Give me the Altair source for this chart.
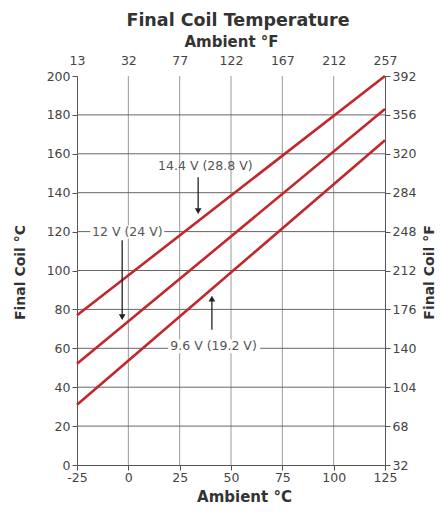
import json
import altair as alt
import pandas as pd

# ---------------- data ----------------
ambient_c = [-25, 125]
coil_14_4 = [77, 200]
coil_12 = [52, 183]
coil_9_6 = [31, 167]
series_names = ["14.4 V", "12 V", "9.6 V"]

x_ticks = [-25, 0, 25, 50, 75, 100, 125]
x_ticks_c = ["-25", "0", "25", "50", "75", "100", "125"]
x_ticks_f = ["13", "32", "77", "122", "167", "212", "257"]
y_ticks = [0, 20, 40, 60, 80, 100, 120, 140, 160, 180, 200]
y_ticks_f = ["32", "68", "104", "140", "176", "212", "248", "284", "320", "356", "392"]

h_grid = [20, 40, 60, 80, 100, 120, 140, 160, 180]
v_grid = [0, 25, 50, 75, 100]

ann_text = ["14.4 V (28.8 V)", "12 V (24 V)", "9.6 V (19.2 V)"]
ann_x = [37.5, -0.5, 41.5]
ann_y = [153.7, 119.8, 61]

arrow_x = [34, -3, 40.7]
arrow_tail = [148, 115.5, 69.5]
arrow_head = [130.5, 76, 85.5]
arrow_shape = ["down", "down", "up"]

box_x = [-18.5, 19.4]
box_x2 = [17.5, 64.2]
box_y = [116.5, 57.5]
box_y2 = [123.3, 64.5]

# ---------------- tables ----------------
lines_df = pd.DataFrame({
    "series": sum([[s] * len(ambient_c) for s in series_names], []),
    "x": ambient_c * 3,
    "y": coil_14_4 + coil_12 + coil_9_6,
})
hgrid_df = pd.DataFrame({"y": h_grid})
vgrid_df = pd.DataFrame({"x": v_grid})
ann_df = pd.DataFrame({"text": ann_text, "x": ann_x, "y": ann_y})
arrow_df = pd.DataFrame({"x": arrow_x, "tail": arrow_tail, "head": arrow_head, "dir": arrow_shape})
box_df = pd.DataFrame({"x": box_x, "x2": box_x2, "y": box_y, "y2": box_y2})

RED = "#c1272d"
FONT = "DejaVu Sans"

xs = alt.Scale(domain=[-25, 125], nice=False, zero=False)
ys = alt.Scale(domain=[0, 200], nice=False, zero=False)

common_axis = dict(
    grid=False, labelFont=FONT, labelFontSize=12.5, labelColor="#444",
    titleFont=FONT, titleFontWeight="bold", titleColor="#333",
    domainColor="#555", tickColor="#555", labelOverlap=False,
)

bottom_axis = alt.Axis(
    orient="bottom", values=x_ticks, tickSize=5, labelPadding=1, labelFlush=False,
    labelExpr=f"{json.dumps(x_ticks_c)}[indexof({json.dumps(x_ticks)}, datum.value)]",
    title="Ambient °C", titleFontSize=15, titleX=167, titleY=31, titleBaseline="middle",
    **common_axis,
)
left_axis = alt.Axis(
    orient="left", values=y_ticks, tickSize=5, labelPadding=2,
    title="Final Coil °C", titleFontSize=14, titleAngle=270, titleX=-57, titleY=196,
    titleBaseline="middle", **common_axis,
)
top_axis = alt.Axis(
    orient="top", values=x_ticks, ticks=False, domain=False, labelPadding=9, labelFlush=False,
    labelExpr=f"{json.dumps(x_ticks_f)}[indexof({json.dumps(x_ticks)}, datum.value)]",
    title="Ambient °F", titleFontSize=15, titleY=-35, titleBaseline="middle",
    **common_axis,
)
right_axis = alt.Axis(
    orient="right", values=y_ticks, tickSize=5, labelPadding=2,
    labelExpr=f"{json.dumps(y_ticks_f)}[indexof({json.dumps(y_ticks)}, datum.value)]",
    title="Final Coil °F", titleFontSize=14, titleAngle=270, titleX=44, titleY=196,
    titleBaseline="middle", **common_axis,
)

vgrid = alt.Chart(vgrid_df).mark_rule(color="#999", strokeWidth=1).encode(
    x=alt.X("x:Q", scale=xs, axis=None)
)
hgrid = alt.Chart(hgrid_df).mark_rule(color="#666", strokeWidth=1).encode(
    y=alt.Y("y:Q", scale=ys, axis=None)
)
boxes = alt.Chart(box_df).mark_rect(color="white").encode(
    x=alt.X("x:Q", scale=xs, axis=None), x2="x2:Q",
    y=alt.Y("y:Q", scale=ys, axis=None), y2="y2:Q",
)
lines = alt.Chart(lines_df).mark_line(color=RED, strokeWidth=2.6).encode(
    x=alt.X("x:Q", scale=xs, axis=bottom_axis),
    y=alt.Y("y:Q", scale=ys, axis=left_axis),
    detail="series:N",
)
axes2 = alt.Chart(lines_df).mark_line(opacity=0).encode(
    x=alt.X("x:Q", scale=xs, axis=top_axis),
    y=alt.Y("y:Q", scale=ys, axis=right_axis),
    detail="series:N",
)
arrows = alt.Chart(arrow_df).mark_rule(color="#222", strokeWidth=1.3).encode(
    x=alt.X("x:Q", scale=xs, axis=None),
    y=alt.Y("tail:Q", scale=ys, axis=None), y2="head:Q",
)
heads = alt.Chart(arrow_df).mark_point(filled=True, size=45, color="#222", opacity=1).encode(
    x=alt.X("x:Q", scale=xs, axis=None),
    y=alt.Y("head:Q", scale=ys, axis=None),
    shape=alt.Shape("dir:N", scale=alt.Scale(domain=["down", "up"], range=["triangle-down", "triangle-up"]), legend=None),
)
texts = alt.Chart(ann_df).mark_text(font=FONT, fontSize=12.5, color="#555").encode(
    x=alt.X("x:Q", scale=xs, axis=None),
    y=alt.Y("y:Q", scale=ys, axis=None),
    text="text:N",
)

chart = (
    alt.layer(vgrid, hgrid, boxes, lines, axes2, arrows, heads, texts)
    .resolve_axis(x="independent", y="independent")
    .properties(
        width=308, height=389,
        title=alt.TitleParams(
            "Final Coil Temperature", font=FONT, fontSize=17.5, fontWeight="bold",
            color="#333", anchor="middle", frame="group", dx=7, offset=5,
        ),
        autosize=alt.AutoSizeParams(type="none"),
        padding={"left": 69, "top": 68, "right": 51, "bottom": 39},
    )
    .configure_view(stroke=None)
)

chart.save("out.html", embed_options={"renderer": "svg", "actions": False})
